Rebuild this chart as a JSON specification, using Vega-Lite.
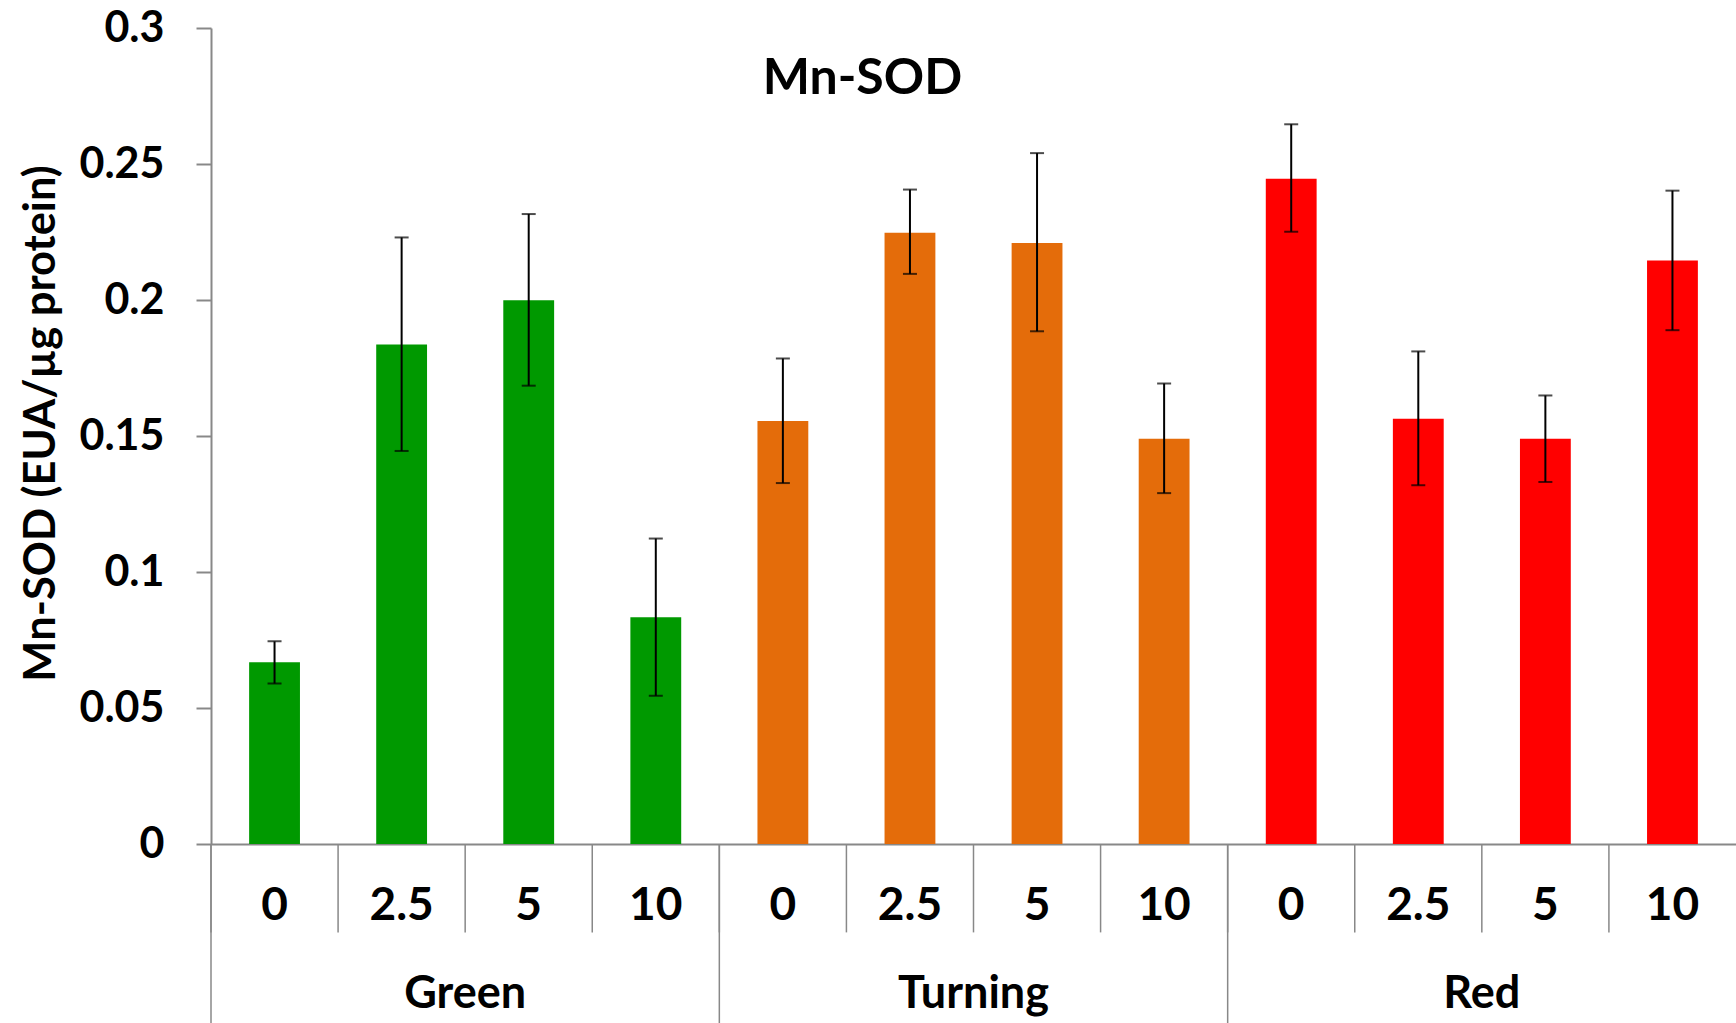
{
  "$schema": "https://vega.github.io/schema/vega-lite/v6.json",
  "width": 1525,
  "height": 816,
  "autosize": {"type": "none"},
  "padding": {"left": 211, "top": 28, "right": 0, "bottom": 179},
  "config": {"view": {"stroke": null}, "font": "Lato"},
  "datasets": {
    "bars": [
      {"stage": "Green", "dose": "0", "key": "Green|0", "mean": 0.0668, "lo": 0.059, "hi": 0.0745},
      {"stage": "Green", "dose": "2.5", "key": "Green|2.5", "mean": 0.1836, "lo": 0.1445, "hi": 0.223},
      {"stage": "Green", "dose": "5", "key": "Green|5", "mean": 0.1999, "lo": 0.1685, "hi": 0.2316},
      {"stage": "Green", "dose": "10", "key": "Green|10", "mean": 0.0834, "lo": 0.0545, "hi": 0.1123},
      {"stage": "Turning", "dose": "0", "key": "Turning|0", "mean": 0.1555, "lo": 0.1327, "hi": 0.1785},
      {"stage": "Turning", "dose": "2.5", "key": "Turning|2.5", "mean": 0.2247, "lo": 0.2096, "hi": 0.2406},
      {"stage": "Turning", "dose": "5", "key": "Turning|5", "mean": 0.221, "lo": 0.1885, "hi": 0.254},
      {"stage": "Turning", "dose": "10", "key": "Turning|10", "mean": 0.149, "lo": 0.129, "hi": 0.1693},
      {"stage": "Red", "dose": "0", "key": "Red|0", "mean": 0.2446, "lo": 0.2251, "hi": 0.2646},
      {"stage": "Red", "dose": "2.5", "key": "Red|2.5", "mean": 0.1563, "lo": 0.1319, "hi": 0.1811},
      {"stage": "Red", "dose": "5", "key": "Red|5", "mean": 0.149, "lo": 0.1331, "hi": 0.1649},
      {"stage": "Red", "dose": "10", "key": "Red|10", "mean": 0.2145, "lo": 0.1889, "hi": 0.2402}
    ],
    "heading": [{"text": "Mn-SOD", "key": "Turning|2.5", "level": 0.2757}]
  },
  "data": {"name": "bars"},
  "encoding": {
    "x": {
      "field": "key", "type": "nominal", "sort": null,
      "scale": {"paddingInner": 0, "paddingOuter": 0},
      "axis": {
        "title": null, "ticks": false, "tickSize": 0, "labelAngle": 0,
        "labelExpr": "split(datum.value, '|')[1]",
        "labelFont": "Lato", "labelFontSize": 46, "labelFontWeight": "bold", "labelColor": "black",
        "labelBaseline": "middle", "labelPadding": 61,
        "domainColor": "#888888", "domainWidth": 2
      }
    }
  },
  "layer": [
    {
      "mark": {"type": "bar", "width": {"band": 0.4}},
      "encoding": {
        "y": {
          "field": "mean", "type": "quantitative",
          "scale": {"domain": [0, 0.3], "nice": false},
          "axis": {
            "values": [0, 0.05, 0.1, 0.15, 0.2, 0.25, 0.3], "format": "~g", "grid": false,
            "title": "Mn-SOD (EUA/µg protein)", "titleFont": "Lato", "titleFontSize": 43.5, "titleFontWeight": "bold", "titleColor": "black",
            "titleX": -170, "titleY": 395, "titleAngle": -90, "titleAlign": "center", "titleBaseline": "middle",
            "labelFont": "Lato", "labelFontSize": 43, "labelFontWeight": "bold", "labelColor": "black", "labelPadding": 32,
            "tickSize": 15, "tickWidth": 2, "tickColor": "#888888", "domainColor": "#888888", "domainWidth": 2
          }
        },
        "color": {"field": "stage", "type": "nominal", "legend": null,
          "scale": {"domain": ["Green", "Turning", "Red"], "range": ["#009900", "#E46C0A", "#FF0000"]}}
      }
    },
    {
      "mark": {"type": "rule", "color": "black", "strokeWidth": 2},
      "encoding": {"y": {"field": "lo", "type": "quantitative"}, "y2": {"field": "hi"}}
    },
    {
      "mark": {"type": "tick", "color": "black", "thickness": 2, "size": 14},
      "encoding": {"y": {"field": "lo", "type": "quantitative"}}
    },
    {
      "mark": {"type": "tick", "color": "black", "thickness": 2, "size": 14},
      "encoding": {"y": {"field": "hi", "type": "quantitative"}}
    },
    {
      "mark": {"type": "rule", "color": "#888888", "strokeWidth": 1.5},
      "encoding": {
        "x": {"field": "key", "type": "nominal", "sort": null, "bandPosition": 0},
        "y": {"datum": 0},
        "y2": {"datum": -0.0325}
      }
    },
    {
      "transform": [{"filter": "datum.dose == '0'"}],
      "mark": {"type": "rule", "color": "#888888", "strokeWidth": 1.5},
      "encoding": {
        "x": {"field": "key", "type": "nominal", "sort": null, "bandPosition": 0},
        "y": {"datum": 0},
        "y2": {"datum": -0.075}
      }
    },
    {
      "transform": [{"filter": "datum.dose == '5'"}],
      "mark": {"type": "text", "font": "Lato", "fontSize": 45, "fontWeight": "bold", "color": "black", "baseline": "middle", "align": "center"},
      "encoding": {
        "x": {"field": "key", "type": "nominal", "sort": null, "bandPosition": 0},
        "y": {"datum": -0.0551},
        "text": {"field": "stage"}
      }
    },
    {
      "data": {"name": "heading"},
      "mark": {"type": "text", "font": "Lato", "fontSize": 50, "fontWeight": "bold", "color": "black", "baseline": "alphabetic", "align": "center", "dx": 16},
      "encoding": {
        "x": {"field": "key", "type": "nominal", "sort": null, "bandPosition": 0},
        "y": {"field": "level", "type": "quantitative"},
        "text": {"field": "text"}
      }
    }
  ]
}
